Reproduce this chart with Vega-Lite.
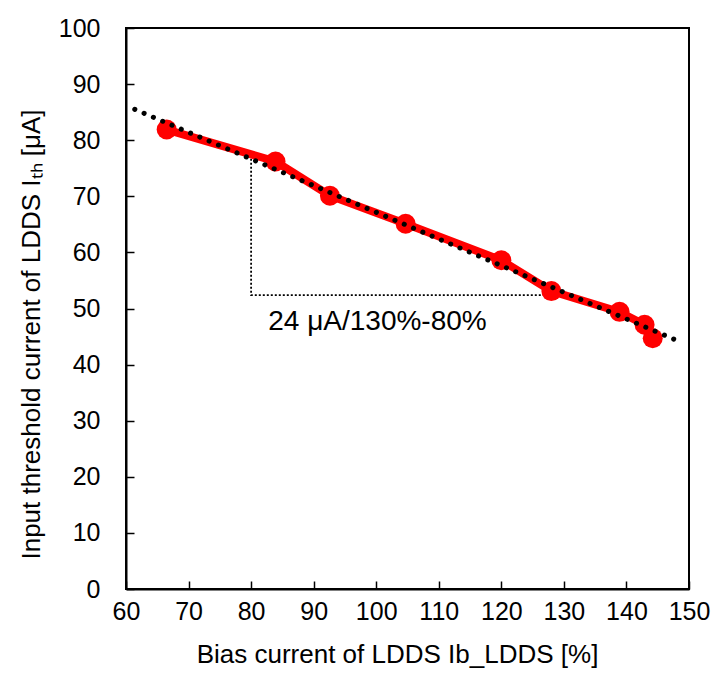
{
  "$schema": "https://vega.github.io/schema/vega-lite/v6.json",
  "width": 563,
  "height": 561,
  "autosize": "none",
  "padding": {"left": 126, "top": 28, "right": 30, "bottom": 93},
  "title": {"text": "(b)", "fontSize": 24, "fontWeight": "normal", "font": "Liberation Sans", "color": "black", "baseline": "alphabetic", "offset": 27, "anchor": "middle", "dx": -43},
  "config": {
    "view": {"stroke": "black", "strokeWidth": 2},
    "font": "Liberation Sans",
    "axis": {
      "grid": false,
      "domainColor": "black",
      "domainWidth": 2,
      "tickColor": "black",
      "tickWidth": 1.5,
      "tickSize": -8,
      "labelFontSize": 25,
      "labelColor": "black",
      "labelFont": "Liberation Sans",
      "labelOverlap": false,
      "labelFlush": false,
      "titleFontSize": 26,
      "titleFontWeight": "normal",
      "titleColor": "black",
      "titleFont": "Liberation Sans"
    }
  },
  "datasets": {
    "meas": [
      {"bias": 66.5, "ith": 81.9},
      {"bias": 83.9, "ith": 76.2},
      {"bias": 92.6, "ith": 70.1},
      {"bias": 104.7, "ith": 65.1},
      {"bias": 120.0, "ith": 58.6},
      {"bias": 128.0, "ith": 53.1},
      {"bias": 138.9, "ith": 49.4},
      {"bias": 142.9, "ith": 47.1},
      {"bias": 144.2, "ith": 44.7}
    ],
    "trend": [
      {"bias": 61.4, "ith": 85.5},
      {"bias": 148.7, "ith": 44.0}
    ],
    "tri": [
      {"bias": 80, "ith": 76.7, "o": 1},
      {"bias": 80, "ith": 52.4, "o": 2},
      {"bias": 129, "ith": 52.4, "o": 3}
    ],
    "note": [
      {"bias": 100.2, "ith": 47.6, "label": "24 μA/130%-80%"}
    ]
  },
  "layer": [
    {
      "data": {"name": "tri"},
      "mark": {"type": "line", "color": "black", "strokeWidth": 1.8, "strokeDash": [2, 2]},
      "encoding": {
        "x": {"field": "bias", "type": "quantitative", "scale": {"domain": [60, 150], "nice": false},
          "axis": {"values": [60, 70, 80, 90, 100, 110, 120, 130, 140, 150], "labelPadding": 18, "title": "Bias current of LDDS Ib_LDDS [%]", "titlePadding": 17, "titleX": 271}},
        "y": {"field": "ith", "type": "quantitative", "scale": {"domain": [0, 100], "nice": false},
          "axis": {"values": [0, 10, 20, 30, 40, 50, 60, 70, 80, 90, 100], "labelPadding": 34, "title": "Input threshold current of LDDS Iₜₕ [μA]", "titlePadding": 14, "titleY": 306}},
        "order": {"field": "o", "type": "quantitative"}
      }
    },
    {
      "data": {"name": "meas"},
      "mark": {"type": "line", "color": "#FF0000", "strokeWidth": 8},
      "encoding": {
        "x": {"field": "bias", "type": "quantitative"},
        "y": {"field": "ith", "type": "quantitative"}
      }
    },
    {
      "data": {"name": "meas"},
      "mark": {"type": "circle", "color": "#FF0000", "opacity": 1, "size": 400},
      "encoding": {
        "x": {"field": "bias", "type": "quantitative"},
        "y": {"field": "ith", "type": "quantitative"}
      }
    },
    {
      "data": {"name": "trend"},
      "mark": {"type": "line", "color": "black", "strokeWidth": 5, "strokeDash": [0.1, 10], "strokeCap": "round"},
      "encoding": {
        "x": {"field": "bias", "type": "quantitative"},
        "y": {"field": "ith", "type": "quantitative"}
      }
    },
    {
      "data": {"name": "note"},
      "mark": {"type": "text", "fontSize": 28, "color": "black", "align": "center", "baseline": "middle", "font": "Liberation Sans"},
      "encoding": {
        "x": {"field": "bias", "type": "quantitative"},
        "y": {"field": "ith", "type": "quantitative"},
        "text": {"field": "label"}
      }
    }
  ]
}
